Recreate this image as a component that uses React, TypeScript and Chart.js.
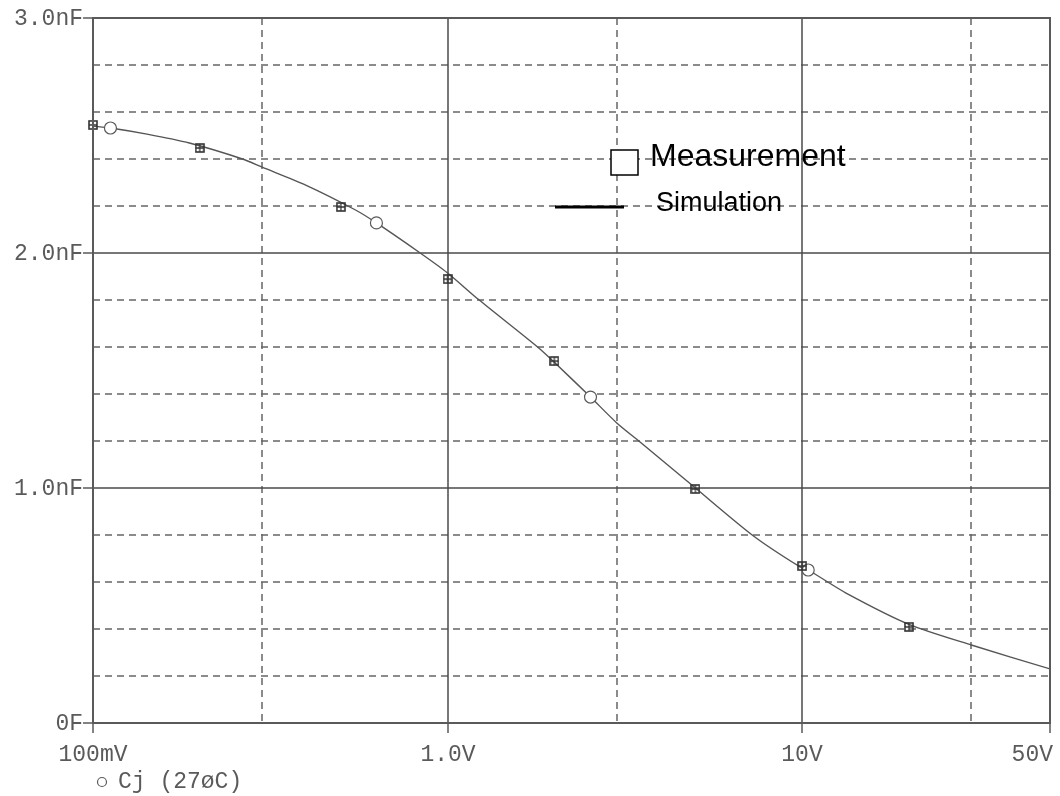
import React, { useEffect, useRef } from "react";
import { Chart, registerables } from "chart.js";
Chart.register(...registerables);

// Simulation trace (V, nF)
const simX = [0.1, 0.112, 0.142, 0.187, 0.264, 0.3, 0.398, 0.55, 0.63, 0.837, 1.0, 1.218, 1.794, 2.0, 2.53, 3.0, 3.49, 5.0, 7.29, 9.87, 10.4, 13.3, 20, 30, 50];
const simY = [2.54, 2.532, 2.506, 2.468, 2.4, 2.365, 2.289, 2.183, 2.128, 2.0, 1.915, 1.804, 1.6, 1.535, 1.387, 1.277, 1.196, 1.0, 0.796, 0.664, 0.651, 0.553, 0.42, 0.332, 0.23];
// Trace symbols (circles)
const markX = [0.112, 0.63, 2.53, 10.4];
const markY = [2.532, 2.128, 1.387, 0.651];
// Measurement (squares)
const measX = [0.1, 0.2, 0.5, 1, 2, 5, 10, 20];
const measY = [2.545, 2.447, 2.196, 1.889, 1.54, 0.996, 0.668, 0.409];

const xMajorGrid = [1, 10];
const xMinorGrid = [0.3, 3, 30];
const yMajorGrid = [1, 2];
const yMinorGrid = [0.2, 0.4, 0.6, 0.8, 1.2, 1.4, 1.6, 1.8, 2.2, 2.4, 2.6, 2.8];
const xTickValues = [0.1, 1, 10, 50];
const xTickLabels = ["100mV", "1.0V", "10V", "50V"];
const yTickValues = [0, 1, 2, 3];
const yTickLabels = ["0F", "1.0nF", "2.0nF", "3.0nF"];
const traceLabel = "Cj (27\u00f8C)";
const legendLabels = ["Measurement", "Simulation"];

const MONO = '23px "Liberation Mono", "Courier New", monospace';
const SANS = '"Liberation Sans", Arial, sans-serif';
const AXIS = "#5a5a5a";

function makeSquare(): HTMLCanvasElement {
  const c = document.createElement("canvas");
  c.width = 10;
  c.height = 10;
  const g = c.getContext("2d")!;
  g.strokeStyle = "#333";
  g.lineWidth = 1.6;
  g.strokeRect(1, 1, 8, 8);
  g.lineWidth = 1.3;
  g.beginPath();
  g.moveTo(5, 1);
  g.lineTo(5, 9);
  g.moveTo(1, 5);
  g.lineTo(9, 5);
  g.stroke();
  return c;
}

const decor = {
  id: "decor",
  beforeDatasetsDraw(chart: any) {
    const { ctx, chartArea: a, scales } = chart;
    const xs = scales.x, ys = scales.y;
    ctx.save();
    ctx.strokeStyle = "#666";
    ctx.lineWidth = 1.5;
    ctx.setLineDash([7, 5]);
    for (const v of xMinorGrid) {
      const px = Math.round(xs.getPixelForValue(v));
      ctx.beginPath();
      ctx.moveTo(px, a.top);
      ctx.lineTo(px, a.bottom);
      ctx.stroke();
    }
    for (const v of yMinorGrid) {
      const py = Math.round(ys.getPixelForValue(v));
      ctx.beginPath();
      ctx.moveTo(a.left, py);
      ctx.lineTo(a.right, py);
      ctx.stroke();
    }
    ctx.setLineDash([]);
    ctx.strokeStyle = "#4a4a4a";
    ctx.lineWidth = 1.5;
    for (const v of xMajorGrid) {
      const px = Math.round(xs.getPixelForValue(v));
      ctx.beginPath();
      ctx.moveTo(px, a.top);
      ctx.lineTo(px, a.bottom);
      ctx.stroke();
    }
    for (const v of yMajorGrid) {
      const py = Math.round(ys.getPixelForValue(v));
      ctx.beginPath();
      ctx.moveTo(a.left, py);
      ctx.lineTo(a.right, py);
      ctx.stroke();
    }
    // legend (drawn over grid)
    ctx.fillStyle = "#000";
    ctx.textAlign = "left";
    ctx.textBaseline = "alphabetic";
    ctx.font = "32px " + SANS;
    ctx.fillText(legendLabels[0], 650, 166);
    ctx.font = "27px " + SANS;
    ctx.fillText(legendLabels[1], 656, 211);
    ctx.fillStyle = "#fff";
    ctx.fillRect(611, 150, 27, 25);
    ctx.strokeStyle = "#000";
    ctx.lineWidth = 1.5;
    ctx.strokeRect(611, 150, 27, 25);
    ctx.lineWidth = 3;
    ctx.beginPath();
    ctx.moveTo(555, 207);
    ctx.lineTo(624, 207);
    ctx.stroke();
    ctx.restore();
  },
  afterDraw(chart: any) {
    const { ctx, chartArea: a, scales } = chart;
    const xs = scales.x, ys = scales.y;
    ctx.save();
    ctx.strokeStyle = AXIS;
    ctx.lineWidth = 2;
    ctx.strokeRect(a.left, a.top, a.right - a.left, a.bottom - a.top);
    ctx.lineWidth = 1.5;
    ctx.font = MONO;
    ctx.fillStyle = AXIS;
    yTickValues.forEach((v, i) => {
      const py = Math.round(ys.getPixelForValue(v));
      ctx.beginPath();
      ctx.moveTo(a.left - 10, py);
      ctx.lineTo(a.left, py);
      ctx.stroke();
      ctx.textAlign = "right";
      ctx.textBaseline = "middle";
      ctx.fillText(yTickLabels[i], a.left - 10, py + 1);
    });
    xTickValues.forEach((v, i) => {
      const px = Math.round(xs.getPixelForValue(v));
      ctx.beginPath();
      ctx.moveTo(px, a.bottom);
      ctx.lineTo(px, a.bottom + 10);
      ctx.stroke();
      const w = ctx.measureText(xTickLabels[i]).width;
      let left = px - w / 2;
      if (left + w > a.right + 3) left = a.right + 3 - w;
      ctx.textAlign = "left";
      ctx.textBaseline = "alphabetic";
      ctx.fillText(xTickLabels[i], left, 761);
    });
    // trace legend
    ctx.lineWidth = 1.2;
    ctx.fillStyle = "#fff";
    ctx.beginPath();
    ctx.arc(102, 782, 4.5, 0, Math.PI * 2);
    ctx.fill();
    ctx.stroke();
    ctx.fillStyle = AXIS;
    ctx.textAlign = "left";
    ctx.fillText(traceLabel, 118, 788);
    ctx.restore();
  },
};

export default function App() {
  const ref = useRef<HTMLCanvasElement>(null);
  useEffect(() => {
    if (!ref.current) return;
    const sq = makeSquare();
    const chart = new Chart(ref.current, {
      type: "scatter",
      data: {
        datasets: [
          {
            label: "Measurement",
            data: measX.map((x, i) => ({ x, y: measY[i] })),
            pointStyle: sq as any,
            pointRadius: 5,
            showLine: false,
            order: 1,
            clip: false as any,
          },
          {
            label: "marks",
            data: markX.map((x, i) => ({ x, y: markY[i] })),
            pointStyle: "circle",
            pointRadius: 6,
            backgroundColor: "#fff",
            borderColor: "#5a5a5a",
            borderWidth: 1.2,
            showLine: false,
            order: 2,
            clip: false as any,
          },
          {
            label: "Simulation",
            data: simX.map((x, i) => ({ x, y: simY[i] })),
            showLine: true,
            pointRadius: 0,
            borderColor: "#555",
            borderWidth: 1.4,
            tension: 0.25,
            order: 3,
          },
        ],
      },
      options: {
        responsive: false,
        animation: false,
        layout: { padding: { left: 93, right: 10, top: 18, bottom: 73 } },
        plugins: { legend: { display: false }, tooltip: { enabled: false } },
        scales: {
          x: { type: "logarithmic", min: 0.1, max: 50, display: false },
          y: { type: "linear", min: 0, max: 3, display: false },
        },
      },
      plugins: [decor],
    });
    return () => chart.destroy();
  }, []);
  return (
    <div style={{ position: "absolute", left: 0, top: 0, width: 1060, height: 796, background: "#fff" }}>
      <canvas ref={ref} width={1060} height={796} style={{ width: 1060, height: 796, display: "block" }} />
    </div>
  );
}
